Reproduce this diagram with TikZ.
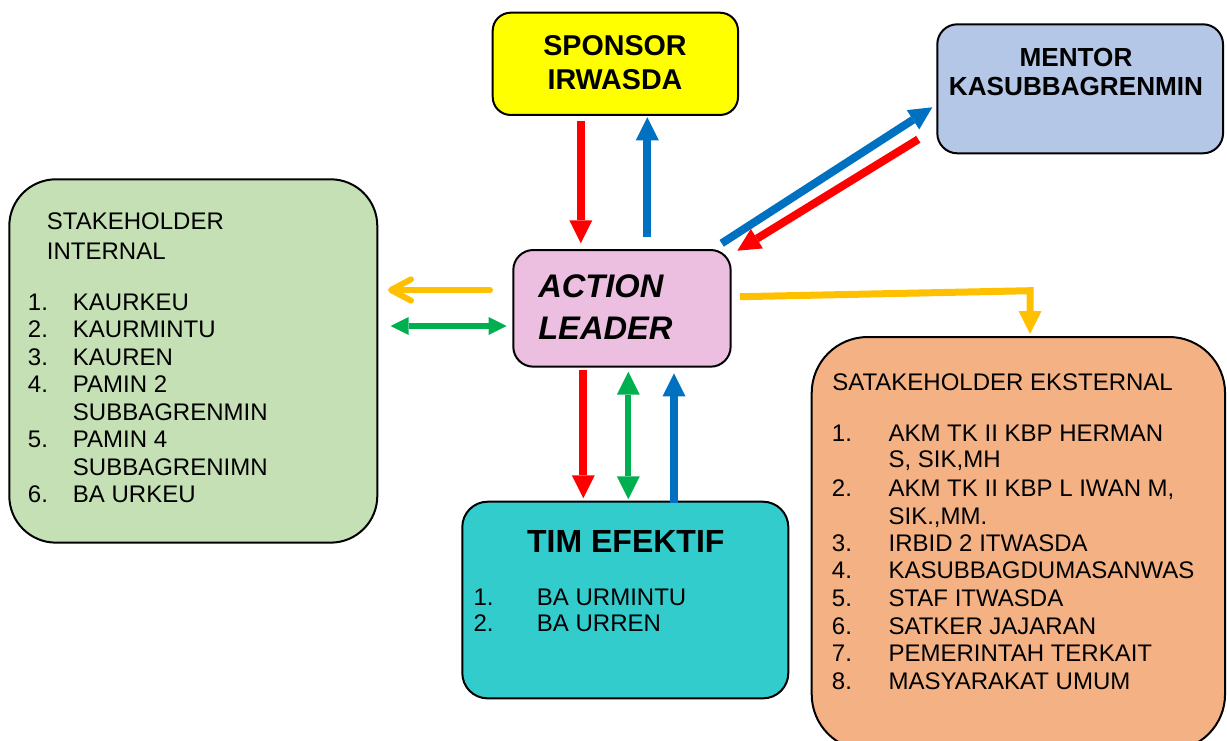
\documentclass[tikz,border=0pt]{standalone}
\usepackage{fontspec}
\setmainfont{Liberation Sans}
\usetikzlibrary{arrows.meta}
\definecolor{cred}{HTML}{FF0000}
\definecolor{cblue}{HTML}{0070C0}
\definecolor{cgreen}{HTML}{00B050}
\definecolor{cyellow}{HTML}{FFC000}
\definecolor{fsponsor}{HTML}{FFFF00}
\definecolor{fmentor}{HTML}{B4C7E7}
\definecolor{finternal}{HTML}{C5E0B4}
\definecolor{faction}{HTML}{ECBFE0}
\definecolor{ftim}{HTML}{33CCCC}
\definecolor{fext}{HTML}{F4B183}
\begin{document}
\begin{tikzpicture}[x=0.75pt,y=-0.75pt,
  box/.style={draw=black, line width=1.5pt, inner sep=0pt, outer sep=0pt, anchor=north west},
  txt/.style={inner sep=0pt, anchor=base west, font=\fontsize{18}{20}\selectfont},
  ctxt/.style={inner sep=0pt, anchor=base},
  bigarr/.style={line width=6pt, -{Triangle[length=17.25pt,width=17.25pt,line width=0pt]}},
  dblarr/.style={line width=4.5pt, {Triangle[length=17.25pt,width=17.25pt,line width=0pt]}-{Triangle[length=17.25pt,width=17.25pt,line width=0pt]}},
  smalldbl/.style={line width=4.5pt, {Triangle[length=13.5pt,width=13.5pt,line width=0pt]}-{Triangle[length=13.5pt,width=13.5pt,line width=0pt]}},
  barbarr/.style={line width=4.5pt, line cap=round, -{Straight Barb[length=15pt,width=16pt,round]}}]
\useasboundingbox (0,0) rectangle (1227,740);

% boxes
\node[box, rounded corners=13.5pt, fill=fsponsor, minimum width=184pt, minimum height=76.7pt] (sponsor) at (492.7,12.7) {};
\node[box, rounded corners=15pt, fill=fmentor, minimum width=214.3pt, minimum height=96.75pt] (mentor) at (937.3,24.3) {};
\node[box, rounded corners=35pt, fill=finternal, minimum width=276pt, minimum height=272.5pt] (internal) at (9.3,179.3) {};
\node[box, rounded corners=15pt, fill=faction, minimum width=163pt, minimum height=87.5pt] (action) at (513.3,250) {};
\node[box, rounded corners=19pt, fill=ftim, minimum width=244.5pt, minimum height=147.5pt] (tim) at (462.3,501.7) {};
\node[box, rounded corners=42pt, fill=fext, minimum width=310pt, minimum height=310pt] (ext) at (811.7,337) {};

% sponsor text
\node[ctxt, font=\fontsize{21.5}{24}\selectfont\bfseries] (sp1) at (615,55) {SPONSOR};
\node[ctxt, font=\fontsize{21.5}{24}\selectfont\bfseries] (sp2) at (615,89.3) {IRWASDA};
% mentor text
\node[ctxt, font=\fontsize{19.6}{22}\selectfont\bfseries] (mt1) at (1076,66.7) {MENTOR};
\node[ctxt, font=\fontsize{19.6}{22}\selectfont\bfseries] (mt2) at (1076,95) {KASUBBAGRENMIN};
% action leader text
\node[inner sep=0pt, anchor=base west, font=\fontsize{24.5}{28}\selectfont\bfseries\itshape] (al1) at (538,297.3) {ACTION};
\node[inner sep=0pt, anchor=base west, font=\fontsize{24.5}{28}\selectfont\bfseries\itshape] (al2) at (538,339) {LEADER};

% internal text
\node[txt] (in0) at (46.7,229) {STAKEHOLDER};
\node[txt] (in0b) at (46.7,259.3) {INTERNAL};
\node[txt] (n1) at (27.7,310) {1.};  \node[txt] (i1) at (72.7,310) {KAURKEU};
\node[txt] (n2) at (27.7,337) {2.};  \node[txt] (i2) at (72.7,337) {KAURMINTU};
\node[txt] (n3) at (27.7,365) {3.};  \node[txt] (i3) at (72.7,365) {KAUREN};
\node[txt] (n4) at (27.7,392.3) {4.};  \node[txt] (i4) at (72.7,392.3) {PAMIN 2};
\node[txt] (i4b) at (72.7,420) {SUBBAGRENMIN};
\node[txt] (n5) at (27.7,447.7) {5.};  \node[txt] (i5) at (72.7,447.7) {PAMIN 4};
\node[txt] (i5b) at (72.7,475) {SUBBAGRENIMN};
\node[txt] (n6) at (27.7,502.7) {6.};  \node[txt] (i6) at (72.7,502.7) {BA URKEU};

% tim text
\node[ctxt, font=\fontsize{24}{28}\selectfont\bfseries] (tm0) at (625.8,552.3) {TIM EFEKTIF};
\node[txt] (tn1) at (473.3,605) {1.}; \node[txt] (t1) at (536.7,605) {BA URMINTU};
\node[txt] (tn2) at (473.3,631.7) {2.}; \node[txt] (t2) at (536.7,631.7) {BA URREN};

% external text
\node[txt] (ex0) at (832,390) {SATAKEHOLDER EKSTERNAL};
\node[txt] (en1) at (831.7,441) {1.}; \node[txt] (e1) at (888.3,441) {AKM TK II KBP HERMAN};
\node[txt] (e1b) at (888.3,467.7) {S, SIK,MH};
\node[txt] (en2) at (831.7,496.7) {2.}; \node[txt] (e2) at (888.3,496.7) {AKM TK II KBP L IWAN M,};
\node[txt] (e2b) at (888.3,524) {SIK.,MM.};
\node[txt] (en3) at (831.7,551) {3.}; \node[txt] (e3) at (888.3,551) {IRBID 2 ITWASDA};
\node[txt] (en4) at (831.7,578.7) {4.}; \node[txt] (e4) at (888.3,578.7) {KASUBBAGDUMASANWAS};
\node[txt] (en5) at (831.7,606) {5.}; \node[txt] (e5) at (888.3,606) {STAF ITWASDA};
\node[txt] (en6) at (831.7,634) {6.}; \node[txt] (e6) at (888.3,634) {SATKER JAJARAN};
\node[txt] (en7) at (831.7,661.7) {7.}; \node[txt] (e7) at (888.3,661.7) {PEMERINTAH TERKAIT};
\node[txt] (en8) at (831.7,689) {8.}; \node[txt] (e8) at (888.3,689) {MASYARAKAT UMUM};

% connector end points
\coordinate (spR1) at (580.8,120.7); \coordinate (spR2) at (580.8,243.3);
\coordinate (spB1) at (647.3,237.3); \coordinate (spB2) at (647.3,117.3);
\coordinate (mnB1) at (721.7,243.3); \coordinate (mnB2) at (932.3,107.3);
\coordinate (mnR1) at (918.3,139.3); \coordinate (mnR2) at (737.3,250.7);
\coordinate (inY1) at (490,290); \coordinate (inY2) at (388,290);
\coordinate (inG1) at (390.7,326); \coordinate (inG2) at (506.7,326);
\coordinate (exY1) at (740,296.7); \coordinate (exY2) at (1030,290.7); \coordinate (exY3) at (1030,334);
\coordinate (tmR1) at (583.3,370); \coordinate (tmR2) at (583.3,498.3);
\coordinate (tmG1) at (628.3,371.7); \coordinate (tmG2) at (628.3,499.3);
\coordinate (tmB1) at (674,503.3); \coordinate (tmB2) at (674,373.3);

% connectors
\draw[bigarr, draw=cred] (spR1) -- (spR2);
\draw[bigarr, draw=cblue] (spB1) -- (spB2);
\draw[bigarr, draw=cblue] (mnB1) -- (mnB2);
\draw[bigarr, draw=cred] (mnR1) -- (mnR2);
\draw[barbarr, draw=cyellow] (inY1) -- (inY2);
\draw[smalldbl, draw=cgreen] (inG1) -- (inG2);
\draw[bigarr, line width=5.25pt, line join=miter, draw=cyellow] (exY1) -- (exY2) -- (exY3);
\draw[bigarr, draw=cred] (tmR1) -- (tmR2);
\draw[dblarr, draw=cgreen] (tmG1) -- (tmG2);
\draw[bigarr, draw=cblue] (tmB1) -- (tmB2);
\end{tikzpicture}
\end{document}
